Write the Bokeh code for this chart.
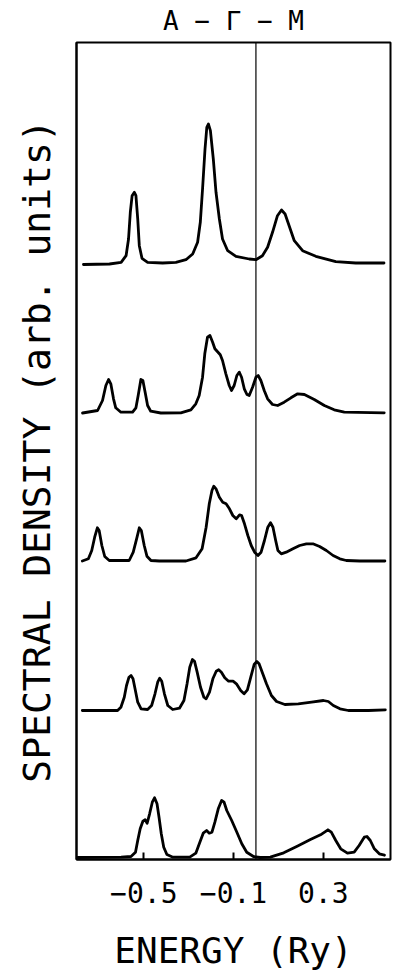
from bokeh.plotting import figure
from bokeh.models import FixedTicker, Span, ColumnDataSource
from bokeh.embed import file_html
from bokeh.resources import INLINE

# ---- data (energy in Ry, spectral density in arbitrary units) ----
energy_1 = [-0.769, -0.653, -0.601, -0.579, -0.568, -0.560, -0.552, -0.542, -0.535, -0.527,
            -0.520, -0.508, -0.483, -0.416, -0.357, -0.312, -0.282, -0.260, -0.248, -0.238,
            -0.227, -0.219, -0.212, -0.203, -0.190, -0.178, -0.163, -0.149, -0.126, -0.089,
            -0.030, 0.000, 0.029, 0.052, 0.074, 0.096, 0.114, 0.130, 0.148, 0.171,
            0.208, 0.267, 0.356, 0.445, 0.571]
dos_1 = [0, 0.5, 2.2, 8.8, 25.5, 52.5, 68.8, 72.2, 68.8, 45.5,
         18.8, 6.2, 2.2, 1.5, 2.2, 4.8, 10.5, 22.2, 42.2, 75.5,
         115.5, 137.2, 140.5, 133.8, 105.5, 72.2, 45.5, 25.5, 13.8, 8.2,
         5.5, 4.8, 8.8, 17.2, 32.2, 48.8, 54.5, 50.5, 38.8, 23.8,
         13.8, 8.2, 2.8, 1.5, 1.5]

energy_2 = [-0.773, -0.706, -0.684, -0.669, -0.657, -0.647, -0.635, -0.625, -0.602, -0.550,
            -0.535, -0.525, -0.513, -0.504, -0.494, -0.483, -0.469, -0.424, -0.335, -0.290,
            -0.268, -0.253, -0.238, -0.228, -0.216, -0.205, -0.193, -0.183, -0.159, -0.149,
            -0.134, -0.119, -0.109, -0.097, -0.085, -0.074, -0.064, -0.052, -0.040, -0.030,
            -0.015, 0.000, 0.010, 0.022, 0.037, 0.052, 0.074, 0.097, 0.126, 0.156,
            0.186, 0.216, 0.260, 0.305, 0.349, 0.394, 0.572]
dos_2 = [0, 2.5, 12.5, 27.5, 33.5, 29.2, 14.2, 5.2, 0.8, 0.8,
         5.2, 17.5, 33.5, 32.5, 20.8, 7.5, 1.8, 0, 0.2, 3.2,
         9.2, 17.5, 35.8, 59.2, 75.8, 77.5, 70.8, 64.2, 58.2, 52.5,
         39.2, 27.5, 22.5, 27.5, 37.5, 40.8, 35.8, 24.2, 18.5, 17.5,
         25.8, 35.8, 37.5, 32.5, 22.5, 14.2, 8.5, 7.5, 10.8, 15.2,
         19.2, 18.5, 13.5, 7.5, 3.2, 0.8, 0.2]

energy_3 = [-0.774, -0.747, -0.732, -0.719, -0.707, -0.699, -0.687, -0.674, -0.654, -0.565,
            -0.547, -0.532, -0.520, -0.511, -0.498, -0.486, -0.468, -0.431, -0.312, -0.267,
            -0.240, -0.222, -0.208, -0.196, -0.188, -0.178, -0.163, -0.148, -0.133, -0.118,
            -0.103, -0.088, -0.073, -0.064, -0.051, -0.036, -0.021, -0.006, 0.009, 0.023,
            0.038, 0.053, 0.065, 0.076, 0.088, 0.098, 0.113, 0.135, 0.165, 0.195,
            0.225, 0.254, 0.284, 0.314, 0.344, 0.374, 0.403, 0.463, 0.575]
dos_3 = [0, 2.2, 10.5, 23.8, 33.2, 30.5, 15.5, 4.5, 0.5, 0.5,
         8.8, 22.2, 33.2, 30.5, 15.5, 4.8, 0.5, 0, 0, 3.2,
         12.2, 33.8, 57.2, 70.5, 74.8, 72.2, 63.8, 58.8, 57.2, 52.2,
         45.5, 42.2, 46.2, 45.5, 37.2, 25.5, 15.5, 8.8, 5.5, 8.8,
         20.5, 33.8, 38.2, 33.8, 20.5, 10.5, 7.2, 8.8, 12.2, 15.5,
         17.2, 17.2, 14.5, 10.5, 5.5, 2.2, 0.5, 0, 0]

energy_4 = [-0.774, -0.617, -0.602, -0.587, -0.577, -0.566, -0.557, -0.548, -0.539, -0.527,
            -0.512, -0.483, -0.465, -0.450, -0.438, -0.429, -0.420, -0.408, -0.393, -0.371,
            -0.341, -0.321, -0.307, -0.295, -0.283, -0.274, -0.262, -0.247, -0.232, -0.222,
            -0.207, -0.192, -0.177, -0.166, -0.154, -0.139, -0.122, -0.102, -0.087, -0.068,
            -0.053, -0.038, -0.023, -0.008, 0.004, 0.014, 0.028, 0.047, 0.069, 0.092,
            0.129, 0.189, 0.248, 0.301, 0.323, 0.345, 0.375, 0.412, 0.502, 0.577]
dos_4 = [0, 0, 3.3, 13.3, 25, 33.3, 35, 31.7, 21.7, 8.3,
         1.7, 1, 5, 16.7, 28.3, 32.3, 29.3, 16.7, 5, 1,
         2.3, 10, 26.7, 43.3, 51, 49.3, 38.3, 23.3, 13.3, 11.7,
         18.3, 31.7, 39.3, 40.7, 38.3, 32.7, 29.3, 29.3, 26.7, 20,
         16.7, 20.7, 33.3, 46, 49, 46.7, 38.3, 26.7, 15, 9,
         6, 6.7, 8.3, 10, 9, 5, 1.7, 0, 0, 0.7]

energy_5 = [-0.795, -0.601, -0.557, -0.537, -0.527, -0.516, -0.504, -0.494, -0.485, -0.474,
            -0.462, -0.452, -0.441, -0.432, -0.422, -0.411, -0.397, -0.370, -0.295, -0.268,
            -0.250, -0.235, -0.220, -0.208, -0.196, -0.183, -0.168, -0.153, -0.142, -0.130,
            -0.108, -0.085, -0.063, -0.041, -0.011, 0.019, 0.064, 0.124, 0.184, 0.243,
            0.288, 0.321, 0.336, 0.356, 0.378, 0.408, 0.438, 0.460, 0.483, 0.495,
            0.510, 0.528, 0.550, 0.573]
dos_5 = [0, 0.3, 1, 5.3, 17, 28.7, 36.3, 37.7, 34.3, 43.7,
         55.3, 59.7, 53.7, 40.3, 23.7, 10.3, 3, 0.3, 0.3, 4.3,
         15.3, 24.3, 27, 24.3, 25.3, 35.3, 48.7, 57, 55.3, 47,
         37, 25.3, 13.7, 5.3, 1, 0, 0.3, 4.7, 11.3, 18,
         22.7, 27.7, 25.3, 17, 8.7, 4.3, 5.3, 12, 20.3, 21,
         17, 8.7, 3.7, 2.3]

curve_offsets = [595, 446.5, 298.5, 149, 2]
x_ticks = [-0.5, -0.1, 0.3]
x_tick_labels = ["\u22120.5", "\u22120.1", "0.3"]
fermi_energy = 0.0
title_text = "A \u2212 \u0393 \u2212 M"
x_label_text = "ENERGY (Ry)"
y_label_text = "SPECTRAL DENSITY (arb. units)"

energies = [energy_1, energy_2, energy_3, energy_4, energy_5]
densities = [dos_1, dos_2, dos_3, dos_4, dos_5]

FONT = "DejaVu Sans Mono"

p = figure(width=402, height=973, x_range=(-0.8, 0.6), y_range=(0, 817),
           output_backend="svg", toolbar_location=None,
           min_border_left=76, min_border_right=12, min_border_top=42, min_border_bottom=114,
           background_fill_color="white", border_fill_color="white",
           title=title_text)

p.grid.visible = False
p.outline_line_color = "black"
p.outline_line_width = 2

p.title.align = "center"
p.title.vertical_align = "top"
p.title.offset = 4
p.title.text_font = FONT
p.title.text_font_size = "26px"
p.title.text_font_style = "normal"
p.title.text_color = "black"

# x axis
xa = p.xaxis[0]
xa.ticker = FixedTicker(ticks=x_ticks)
xa.major_label_overrides = {t: l for t, l in zip(x_ticks, x_tick_labels)}
xa.major_tick_in = 7
xa.major_tick_out = 0
xa.major_tick_line_width = 2
xa.minor_tick_line_color = None
xa.axis_line_width = 2
xa.major_label_standoff = 22
xa.major_label_text_font = FONT
xa.major_label_text_font_size = "28px"
xa.major_label_text_color = "black"
xa.axis_label = x_label_text
xa.axis_label_text_font = FONT
xa.axis_label_text_font_size = "36px"
xa.axis_label_text_font_style = "normal"
xa.axis_label_text_color = "black"
xa.axis_label_standoff = 24

# y axis
ya = p.yaxis[0]
ya.ticker = FixedTicker(ticks=[])
ya.minor_tick_line_color = None
ya.major_tick_line_color = None
ya.axis_line_width = 2
ya.axis_label = y_label_text
ya.axis_label_text_font = FONT
ya.axis_label_text_font_size = "38px"
ya.axis_label_text_font_style = "normal"
ya.axis_label_text_color = "black"
ya.axis_label_standoff = 18

p.add_layout(Span(location=fermi_energy, dimension="height", line_color="black", line_width=1.2))

for E, D, off in zip(energies, densities, curve_offsets):
    src = ColumnDataSource(dict(energy=E, density=[d + off for d in D]))
    p.line("energy", "density", source=src, line_color="black", line_width=2.8,
           line_join="round", line_cap="round")

open("out.html", "w").write(file_html(p, INLINE))
